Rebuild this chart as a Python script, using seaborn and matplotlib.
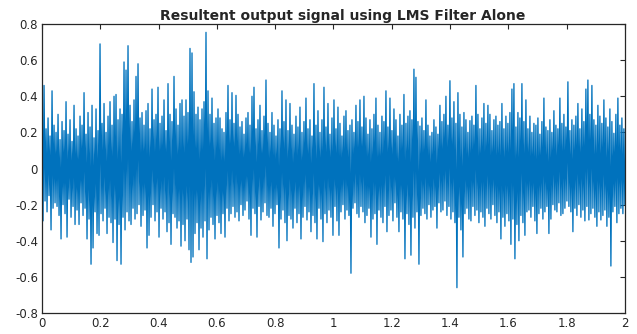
import numpy as np
import pandas as pd
import matplotlib
matplotlib.use("Agg")
import matplotlib.pyplot as plt
import seaborn as sns

title = "Resultent output signal using LMS Filter Alone"
x_ticks = [0, 0.2, 0.4, 0.6, 0.8, 1, 1.2, 1.4, 1.6, 1.8, 2]
y_ticks = [-0.8, -0.6, -0.4, -0.2, 0, 0.2, 0.4, 0.6, 0.8]

# positive peaks of the signal, read left to right
peaks_up = [
    0.25, 0.46, 0.22, 0.28, 0.18, 0.43, 0.24, 0.20, 0.30, 0.16,
    0.26, 0.21, 0.37, 0.19, 0.27, 0.15, 0.35, 0.22, 0.18, 0.29,
    0.24, 0.42, 0.19, 0.31, 0.23, 0.35, 0.17, 0.33, 0.21, 0.69,
    0.25, 0.36, 0.20, 0.29, 0.37, 0.24, 0.40, 0.41, 0.27, 0.33,
    0.30, 0.59, 0.545, 0.68, 0.35, 0.26, 0.38, 0.51, 0.58, 0.28,
    0.31, 0.24, 0.32, 0.36, 0.22, 0.44, 0.27, 0.30, 0.45, 0.25,
    0.29, 0.38, 0.21, 0.47, 0.30, 0.26, 0.51, 0.33, 0.24, 0.36,
    0.38, 0.29, 0.38, 0.31, 0.665, 0.64, 0.425, 0.30, 0.34, 0.27,
    0.33, 0.37, 0.754, 0.43, 0.30, 0.39, 0.25, 0.28, 0.33, 0.28,
    0.22, 0.20, 0.31, 0.46, 0.27, 0.42, 0.25, 0.405, 0.30, 0.23,
    0.26, 0.19, 0.28, 0.31, 0.24, 0.40, 0.45, 0.22, 0.27, 0.35,
    0.21, 0.29, 0.49, 0.25, 0.20, 0.31, 0.24, 0.18, 0.27, 0.22,
    0.43, 0.26, 0.38, 0.21, 0.36, 0.24, 0.19, 0.29, 0.23, 0.34,
    0.20, 0.26, 0.39, 0.22, 0.27, 0.18, 0.47, 0.24, 0.32, 0.20,
    0.27, 0.45, 0.23, 0.36, 0.19, 0.28, 0.38, 0.22, 0.34, 0.25,
    0.18, 0.29, 0.32, 0.21, 0.24, 0.27, 0.20, 0.35, 0.26, 0.38,
    0.23, 0.40, 0.28, 0.19, 0.27, 0.22, 0.30, 0.39, 0.24, 0.20,
    0.29, 0.26, 0.43, 0.23, 0.39, 0.21, 0.33, 0.27, 0.18, 0.30,
    0.24, 0.41, 0.25, 0.29, 0.32, 0.27, 0.55, 0.505, 0.26, 0.235,
    0.28, 0.21, 0.38, 0.24, 0.18, 0.20, 0.27, 0.23, 0.19, 0.35,
    0.26, 0.30, 0.40, 0.24, 0.486, 0.28, 0.37, 0.25, 0.42, 0.30,
    0.23, 0.31, 0.27, 0.20, 0.265, 0.29, 0.24, 0.46, 0.30, 0.22,
    0.28, 0.36, 0.25, 0.35, 0.30, 0.21, 0.27, 0.29, 0.24, 0.26,
    0.36, 0.22, 0.29, 0.25, 0.31, 0.44, 0.47, 0.23, 0.31, 0.28,
    0.47, 0.26, 0.38, 0.22, 0.29, 0.20, 0.25, 0.24, 0.28, 0.19,
    0.26, 0.39, 0.23, 0.21, 0.27, 0.20, 0.32, 0.24, 0.22, 0.39,
    0.25, 0.30, 0.23, 0.48, 0.21, 0.27, 0.24, 0.29, 0.36, 0.22,
    0.33, 0.26, 0.44, 0.49, 0.30, 0.46, 0.27, 0.24, 0.35, 0.29,
    0.25, 0.38, 0.28, 0.23, 0.33, 0.26, 0.195, 0.30, 0.39, 0.24,
    0.28, 0.22,
]

# negative peaks of the signal, read left to right
peaks_down = [
    -0.29, -0.18, -0.24, -0.15, -0.34, -0.22, -0.19, -0.21, -0.26, -0.39,
    -0.20, -0.25, -0.38, -0.17, -0.27, -0.21, -0.31, -0.23, -0.31, -0.19,
    -0.26, -0.22, -0.39, -0.28, -0.53, -0.44, -0.24, -0.36, -0.37, -0.25,
    -0.29, -0.22, -0.36, -0.27, -0.30, -0.41, -0.28, -0.51, -0.31, -0.53,
    -0.27, -0.34, -0.24, -0.29, -0.31, -0.22, -0.28, -0.25, -0.20, -0.32,
    -0.26, -0.23, -0.44, -0.37, -0.27, -0.20, -0.29, -0.24, -0.38, -0.22,
    -0.28, -0.24, -0.35, -0.30, -0.42, -0.25, -0.27, -0.33, -0.29, -0.43,
    -0.31, -0.40, -0.28, -0.45, -0.52, -0.49, -0.36, -0.30, -0.45, -0.33,
    -0.38, -0.29, -0.50, -0.34, -0.27, -0.31, -0.39, -0.26, -0.30, -0.36,
    -0.25, -0.38, -0.22, -0.29, -0.25, -0.21, -0.27, -0.24, -0.29, -0.20,
    -0.26, -0.23, -0.18, -0.28, -0.37, -0.22, -0.25, -0.38, -0.21, -0.285,
    -0.24, -0.19, -0.26, -0.27, -0.22, -0.32, -0.25, -0.20, -0.44, -0.28,
    -0.23, -0.30, -0.40, -0.26, -0.28, -0.33, -0.22, -0.30, -0.25, -0.39,
    -0.27, -0.21, -0.285, -0.24, -0.35, -0.26, -0.30, -0.39, -0.22, -0.28,
    -0.405, -0.25, -0.30, -0.23, -0.27, -0.37, -0.21, -0.29, -0.37, -0.24,
    -0.20, -0.28, -0.23, -0.26, -0.58, -0.22, -0.19, -0.25, -0.27, -0.21,
    -0.24, -0.30, -0.26, -0.22, -0.38, -0.28, -0.25, -0.42, -0.23, -0.27,
    -0.30, -0.21, -0.35, -0.26, -0.23, -0.29, -0.19, -0.27, -0.35, -0.24,
    -0.28, -0.50, -0.25, -0.31, -0.48, -0.27, -0.33, -0.24, -0.53, -0.26,
    -0.22, -0.25, -0.28, -0.20, -0.27, -0.23, -0.21, -0.33, -0.19, -0.24,
    -0.23, -0.18, -0.26, -0.21, -0.28, -0.24, -0.30, -0.66, -0.27, -0.34,
    -0.49, -0.25, -0.22, -0.28, -0.29, -0.21, -0.26, -0.23, -0.30, -0.24,
    -0.27, -0.32, -0.22, -0.25, -0.28, -0.20, -0.26, -0.30, -0.24, -0.39,
    -0.27, -0.32, -0.25, -0.29, -0.42, -0.28, -0.50, -0.31, -0.40, -0.26,
    -0.30, -0.37, -0.24, -0.23, -0.27, -0.21, -0.29, -0.36, -0.25, -0.22,
    -0.28, -0.24, -0.21, -0.36, -0.28, -0.20, -0.23, -0.24, -0.19, -0.26,
    -0.25, -0.22, -0.18, -0.21, -0.24, -0.35, -0.22, -0.26, -0.20, -0.27,
    -0.23, -0.29, -0.21, -0.285, -0.25, -0.22, -0.27, -0.32, -0.24, -0.285,
    -0.26, -0.23, -0.32, -0.27, -0.54, -0.24, -0.21, -0.30, -0.25, -0.22,
    -0.25, -0.20,
]

signal = []
for up, down in zip(peaks_up, peaks_down):
    signal.append(up)
    signal.append(down)
time = np.linspace(0, 2, len(signal))
df = pd.DataFrame({"t": time, "y": signal})

sns.set_style("white")
plt.rcParams["font.family"] = ["DejaVu Sans"]

fig = plt.figure(figsize=(6.37, 3.34), dpi=100)
ax = fig.add_axes([0.066, 0.063, 0.915, 0.865])
sns.lineplot(data=df, x="t", y="y", ax=ax, color="#0072BD", linewidth=0.95,
             estimator=None, sort=False)

ax.set_xlim(0, 2)
ax.set_ylim(-0.8, 0.8)
ax.set_xticks(x_ticks)
ax.set_xticklabels([f"{v:g}" for v in x_ticks])
ax.set_yticks(y_ticks)
ax.set_yticklabels([f"{v:g}" for v in y_ticks])
ax.set_xlabel("")
ax.set_ylabel("")
ax.tick_params(direction="in", length=3.5, width=0.8, colors="#262626",
               labelsize=8.5, top=True, right=True, pad=3)
for s in ax.spines.values():
    s.set_color("#262626")
    s.set_linewidth(0.9)
    s.set_visible(True)
ax.set_title(title, fontsize=10, fontweight="bold", pad=3, x=0.515)

fig.savefig("out.png", dpi=100)
